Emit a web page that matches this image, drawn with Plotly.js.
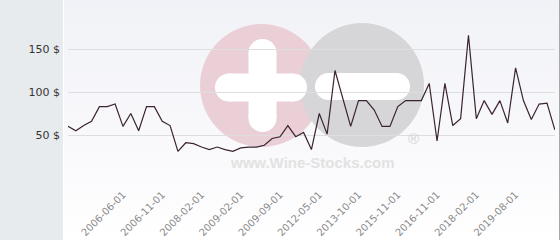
<!DOCTYPE html>
<html>
<head>
<meta charset="utf-8">
<script src="https://cdn.plot.ly/plotly-3.0.1.min.js"></script>
<style>
html,body{margin:0;padding:0;background:#fff;}
#chart{width:560px;height:240px;
background:
 linear-gradient(to right, transparent 559px, #a8a8a8 559px),
 linear-gradient(to right, #e7ebee 0, #e7ebee 63px, #ffffff 63px, #ffffff 64px, transparent 64px),
 linear-gradient(to bottom, #f1f2f7 0%, #fbfbfd 75%, #ffffff 100%);}
</style>
</head>
<body>
<div id="chart"></div>
<script>
// Price series (one point per listed sale, category index on x)
const prices = [60, 55, 61, 66, 83, 83, 86, 60, 75, 55,
                83, 83, 66, 61, 31, 41, 40, 36, 33, 36,
                33, 31, 35, 36, 36, 38, 46, 48, 61, 48,
                53, 33, 75, 51, 125, 93, 60, 90, 90, 79,
                60, 60, 83, 90, 90, 90, 110, 43, 110, 61,
                69, 166, 69, 90, 74, 90, 64, 128, 90, 68,
                86, 87, 56];
const pointIndex = prices.map((_, i) => i);
// labelled categories
const tickIndex = [7, 12, 17, 22, 27, 32, 37, 42, 47, 52, 57];
const tickLabels = ['2006-06-01', '2006-11-01', '2008-02-01', '2009-02-01', '2009-09-01',
                    '2012-05-01', '2013-10-01', '2015-11-01', '2016-11-01', '2018-02-01', '2019-08-01'];
const yTickVals = [0, 50, 100, 150];
const yTickText = ['', '50 $', '100 $', '150 $'];

// watermark geometry helpers (pixel -> paper)
const L = 68, R = 555, T = 6, B = 178;
const px = x => (x - L) / (R - L);
const py = y => (B - y) / (B - T);
function circ(cx, cy, r, color) {
  return {type: 'circle', xref: 'paper', yref: 'paper', layer: 'below',
    x0: px(cx - r), x1: px(cx + r), y0: py(cy + r), y1: py(cy - r),
    fillcolor: color, line: {width: 0}};
}
function rect(x0, y0, x1, y1, color) {
  return {type: 'rect', xref: 'paper', yref: 'paper', layer: 'below',
    x0: px(x0), x1: px(x1), y0: py(y1), y1: py(y0), fillcolor: color, line: {width: 0}};
}
function hbar(x0, x1, cy, h, color) {
  const r = h / 2;
  return [rect(x0 + r, cy - r, x1 - r, cy + r, color), circ(x0 + r, cy, r, color), circ(x1 - r, cy, r, color)];
}
function vbar(cx, y0, y1, w, color) {
  const r = w / 2;
  return [rect(cx - r, y0 + r, cx + r, y1 - r, color), circ(cx, y0 + r, r, color), circ(cx, y1 - r, r, color)];
}
const shapes = [
  circ(261.5, 85.5, 61.5, '#ebcfd7'),
  circ(362, 85, 62, '#d6d6d8'),
  ...hbar(215, 307, 87.5, 28, '#ffffff'),
  ...vbar(262.5, 39, 132, 28, '#ffffff'),
  ...hbar(315, 410, 86.5, 27, '#ffffff')
];

const trace = {
  x: pointIndex, y: prices, type: 'scatter', mode: 'lines',
  line: {color: '#3b2330', width: 1.2}, hoverinfo: 'skip'
};

const layout = {
  width: 560, height: 240,
  margin: {l: L, r: 560 - R, t: T, b: 240 - B},
  paper_bgcolor: 'rgba(0,0,0,0)', plot_bgcolor: 'rgba(0,0,0,0)',
  showlegend: false,
  font: {family: 'DejaVu Sans, sans-serif'},
  xaxis: {
    range: [0, 62.02], showgrid: false, zeroline: false, showline: false,
    tickmode: 'array', tickvals: tickIndex, ticktext: tickLabels,
    tickangle: -45, ticks: '', ticklabelstandoff: 8,
    tickfont: {size: 10, color: '#8a8a8a', family: 'DejaVu Sans, sans-serif'}
  },
  yaxis: {
    range: [0, 200], showgrid: true, gridcolor: '#dedede', gridwidth: 1,
    zeroline: false, showline: false,
    tickmode: 'array', tickvals: yTickVals, ticktext: yTickText,
    ticks: '', ticklabelstandoff: 7,
    tickfont: {size: 11, color: '#333333', family: 'DejaVu Sans, sans-serif'}
  },
  shapes: shapes,
  annotations: [
    {xref: 'paper', yref: 'paper', x: px(312), y: py(162), text: '<b>www.Wine-Stocks.com</b>',
     showarrow: false, xanchor: 'center', yanchor: 'middle',
     font: {family: 'Liberation Sans, Arial, sans-serif', size: 15, color: '#e2e2e2'}},
    {xref: 'paper', yref: 'paper', x: px(413), y: py(138), text: '®',
     showarrow: false, xanchor: 'center', yanchor: 'middle',
     font: {family: 'Liberation Sans, Arial, sans-serif', size: 15, color: '#d3d3d3'}}
  ]
};

Plotly.newPlot('chart', [trace], layout, {staticPlot: true, displayModeBar: false});
</script>
</body>
</html>
